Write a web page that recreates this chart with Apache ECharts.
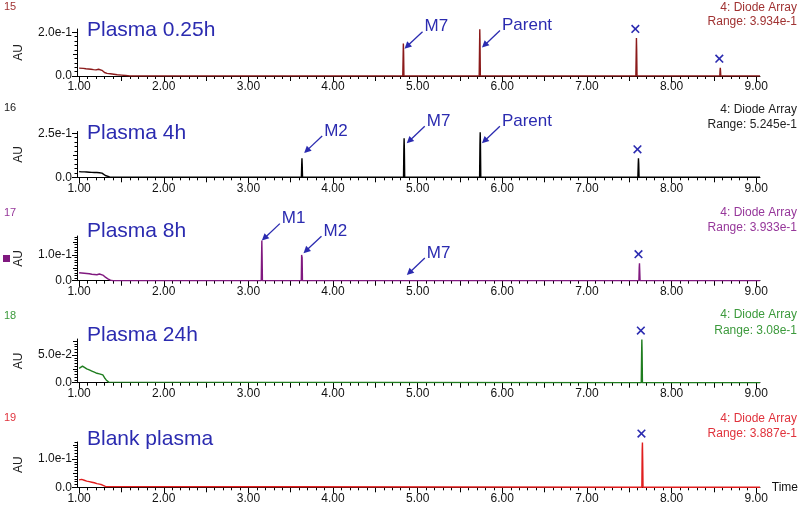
<!DOCTYPE html>
<html><head><meta charset="utf-8">
<script src="https://cdn.jsdelivr.net/npm/echarts@6/dist/echarts.min.js"></script>
<style>html,body{margin:0;padding:0;background:#fff}#c{width:800px;height:510px}</style>
</head><body><div id="c"></div>
<script>
// ---------------- DATA ----------------
const timeTicks = [1, 2, 3, 4, 5, 6, 7, 8, 9];
const traceIds = ['15', '16', '17', '18', '19'];
const sampleNames = ['Plasma 0.25h', 'Plasma 4h', 'Plasma 8h', 'Plasma 24h', 'Blank plasma'];
const detectorText = '4: Diode Array';
const rangeTexts = ['Range: 3.934e-1', 'Range: 5.245e-1', 'Range: 3.933e-1', 'Range: 3.08e-1', 'Range: 3.887e-1'];
const yMax = [0.215, 0.26, 0.174, 0.079, 0.16];
const yLabelTicks = [[0, 0.2], [0, 0.25], [0, 0.1], [0, 0.05], [0, 0.1]];

const trace15 = [[1.00,0.036],[1.02,0.035],[1.05,0.035],[1.08,0.033],[1.11,0.032],[1.14,0.031],[1.17,0.029],[1.20,0.028],[1.23,0.031],[1.25,0.038],[1.27,0.026],[1.30,0.016],[1.33,0.012],[1.37,0.010],[1.41,0.008],[1.45,0.006],[1.50,0.004],[1.55,0.002],[1.60,0.000],
 [4.824,0.000],[4.828,0.080],[4.831,0.149],[4.834,0.110],[4.838,0.000],
 [5.727,0.000],[5.731,0.120],[5.734,0.214],[5.737,0.150],[5.741,0.000],
 [7.578,0.000],[7.582,0.100],[7.585,0.174],[7.588,0.120],[7.592,0.000],
 [8.570,0.000],[8.573,0.025],[8.576,0.038],[8.579,0.020],[8.582,0.000],
 [9.045,0.000]];
const trace16 = [[1.00,0.032],[1.03,0.031],[1.06,0.031],[1.09,0.030],[1.12,0.029],[1.15,0.028],[1.18,0.027],[1.21,0.027],[1.24,0.026],[1.27,0.024],[1.29,0.014],[1.31,0.010],[1.33,0.006],[1.36,0.002],[1.40,0.000],
 [3.626,0.000],[3.630,0.070],[3.633,0.108],[3.636,0.070],[3.640,0.000],
 [4.833,0.000],[4.837,0.160],[4.840,0.222],[4.843,0.160],[4.847,0.000],
 [5.732,0.000],[5.736,0.180],[5.739,0.256],[5.742,0.190],[5.746,0.000],
 [7.602,0.000],[7.606,0.070],[7.609,0.108],[7.612,0.080],[7.616,0.000],
 [9.045,0.000]];
const trace17 = [[1.00,0.031],[1.03,0.030],[1.06,0.029],[1.09,0.028],[1.12,0.027],[1.15,0.025],[1.18,0.024],[1.21,0.023],[1.24,0.026],[1.26,0.030],[1.28,0.022],[1.31,0.014],[1.34,0.007],[1.37,0.002],[1.40,0.000],
 [3.152,0.000],[3.156,0.100],[3.159,0.156],[3.162,0.100],[3.166,0.000],
 [3.625,0.000],[3.629,0.100],[3.632,0.107],[3.635,0.090],[3.639,0.000],
 [4.844,0.000],[4.848,0.003],[4.852,0.000],
 [7.614,0.000],[7.618,0.050],[7.621,0.068],[7.624,0.040],[7.628,0.000],
 [9.045,0.000]];
const trace18 = [[1.00,0.026],[1.02,0.028],[1.04,0.030],[1.06,0.027],[1.09,0.025],[1.12,0.023],[1.15,0.021],[1.18,0.019],[1.21,0.017],[1.24,0.016],[1.26,0.018],[1.28,0.014],[1.30,0.009],[1.32,0.005],[1.35,0.001],[1.37,0.000],
 [7.642,0.000],[7.646,0.050],[7.649,0.078],[7.652,0.055],[7.656,0.000],
 [9.045,0.000]];
const trace19 = [[1.00,0.026],[1.03,0.028],[1.06,0.025],[1.09,0.022],[1.12,0.020],[1.15,0.018],[1.18,0.016],[1.21,0.013],[1.24,0.011],[1.27,0.009],[1.29,0.007],[1.31,0.003],[1.33,0.000],
 [7.649,0.000],[7.653,0.130],[7.656,0.158],[7.659,0.100],[7.663,0.000],
 [9.045,0.000]];

const labelPanel = [0, 0, 1, 1, 1, 2, 2, 2];
const labelText = ['M7', 'Parent', 'M2', 'M7', 'Parent', 'M1', 'M2', 'M7'];
const labelTime = [4.845, 5.760, 3.659, 4.871, 5.759, 3.159, 3.651, 4.872];
const labelAU = [0.125, 0.130, 0.138, 0.193, 0.193, 0.156, 0.107, 0.022];

const crossPanel = [0, 0, 1, 2, 3, 4];
const crossTime = [7.584, 8.576, 7.609, 7.621, 7.649, 7.656];
const crossAU = [0.174, 0.038, 0.108, 0.068, 0.078, 0.158];

// ---------------- STYLE / LAYOUT ----------------
const traces = [trace15, trace16, trace17, trace18, trace19];
const lineColors = ['#8b1a1a', '#000000', '#80197f', '#1f7d1f', '#e01e1e'];
const textColors = ['#a03232', '#222222', '#96379a', '#3c9a3c', '#e0323c'];
const blue = '#2b2bb0';
const FONT = '"Liberation Sans", Arial, sans-serif';
const gridTop = [29, 131.5, 236, 339, 442];
const gridH = [47, 45.8, 44.7, 43.7, 45.3];
const yMinorStep = [0.02, 0.025, 0.01, 0.005, 0.01];
const yMidStep = [0.1, 0.125, 0.05, 0.025, 0.05];
const X_MIN = 0.975, X_MAX = 9.045;

function stepValues(step, maxV, skipSteps) {
  const out = [];
  for (let k = 0; k * step <= maxV + 1e-9; k++) {
    const v = Math.round(k * step * 10000) / 10000;
    if (skipSteps.some(s => Math.abs(v / s - Math.round(v / s)) < 1e-6)) continue;
    out.push(v);
  }
  return out;
}
const xHalf = [], xMinor = [];
for (let k = 10; k <= 90; k++) {
  if (k % 10 === 0) continue;
  if (k % 5 === 0) xHalf.push(k / 10); else xMinor.push(k / 10);
}

const grids = [], xAxes = [], yAxes = [], series = [];
for (let i = 0; i < 5; i++) {
  grids.push({ left: 77, width: 683, top: gridTop[i], height: gridH[i], containLabel: false, outerBoundsMode: 'none' });
  const xBase = { type: 'value', gridIndex: i, min: X_MIN, max: X_MAX, position: 'bottom', splitLine: { show: false } };
  xAxes.push(Object.assign({}, xBase, {
    axisLine: { show: true, onZero: false, lineStyle: { color: '#000', width: 1 } },
    axisTick: { show: true, customValues: timeTicks, length: 6, lineStyle: { color: '#000' } },
    axisLabel: { show: true, customValues: timeTicks, formatter: v => v.toFixed(2), margin: 5, color: '#111', fontSize: 12, fontFamily: FONT },
    name: i === 4 ? 'Time' : '', nameLocation: 'end', nameGap: 6,
    nameTextStyle: { color: '#111', fontSize: 12, fontFamily: FONT, verticalAlign: 'middle' }
  }));
  xAxes.push(Object.assign({}, xBase, {
    axisLine: { show: false, onZero: false }, axisLabel: { show: false },
    axisTick: { show: true, customValues: xHalf, length: 5, lineStyle: { color: '#000' } }
  }));
  xAxes.push(Object.assign({}, xBase, {
    axisLine: { show: false, onZero: false }, axisLabel: { show: false },
    axisTick: { show: true, customValues: xMinor, length: 3, lineStyle: { color: '#000' } }
  }));
  const yBase = { type: 'value', gridIndex: i, min: 0, max: yMax[i], position: 'left', splitLine: { show: false } };
  yAxes.push(Object.assign({}, yBase, {
    axisLine: { show: true, onZero: false, lineStyle: { color: '#000', width: 1 } },
    axisTick: { show: true, customValues: yLabelTicks[i], length: 5, lineStyle: { color: '#000' } },
    axisLabel: { show: true, customValues: yLabelTicks[i], formatter: v => v === 0 ? '0.0' : v.toExponential(1), margin: 5, color: '#111', fontSize: 12, fontFamily: FONT }
  }));
  yAxes.push(Object.assign({}, yBase, {
    axisLine: { show: false, onZero: false }, axisLabel: { show: false },
    axisTick: { show: true, customValues: stepValues(yMidStep[i], yMax[i], [yLabelTicks[i][1]]), length: 4, lineStyle: { color: '#000' } }
  }));
  yAxes.push(Object.assign({}, yBase, {
    axisLine: { show: false, onZero: false }, axisLabel: { show: false },
    axisTick: { show: true, customValues: stepValues(yMinorStep[i], yMax[i], [yMidStep[i], yLabelTicks[i][1]]), length: 2.5, lineStyle: { color: '#000' } }
  }));
  series.push({
    type: 'line', xAxisIndex: i * 3, yAxisIndex: i * 3, data: traces[i], showSymbol: false, symbol: 'none',
    lineStyle: { color: lineColors[i], width: 1.4 }, z: 5, animation: false
  });
}

const chart = echarts.init(document.getElementById('c'), null, { renderer: 'canvas' });
chart.setOption({
  animation: false, backgroundColor: '#fff',
  grid: grids, xAxis: xAxes, yAxis: yAxes, series: series
});

// ---------------- TEXT & ANNOTATIONS ----------------
const graphics = [];
const idY = [7, 108, 213, 316, 418];
const titleY = [30, 133, 231, 335, 439];
const diodeY = [8, 110, 213, 315, 419];
const rangeY = [22, 125, 228, 331, 434];
for (let i = 0; i < 5; i++) {
  graphics.push({ type: 'text', x: 4, y: idY[i], style: { text: traceIds[i], fill: textColors[i], fontSize: 11, fontFamily: FONT, verticalAlign: 'middle' } });
  graphics.push({ type: 'text', x: 87, y: titleY[i], style: { text: sampleNames[i], fill: blue, fontSize: 21, fontFamily: FONT, verticalAlign: 'middle' } });
  graphics.push({ type: 'text', x: 797, y: diodeY[i], style: { text: detectorText, fill: textColors[i], fontSize: 12, fontFamily: FONT, align: 'right', verticalAlign: 'middle' } });
  graphics.push({ type: 'text', x: 797, y: rangeY[i], style: { text: rangeTexts[i], fill: textColors[i], fontSize: 12, fontFamily: FONT, align: 'right', verticalAlign: 'middle' } });
  graphics.push({ type: 'text', x: 19, y: gridTop[i] + gridH[i] / 2, rotation: Math.PI / 2, style: { text: 'AU', fill: '#222', fontSize: 12, fontFamily: FONT, align: 'center', verticalAlign: 'middle' } });
}
graphics.push({ type: 'rect', shape: { x: 3, y: 255, width: 7, height: 7 }, style: { fill: '#80197f' } });

function px(panel, t, v) {
  return chart.convertToPixel({ xAxisIndex: panel * 3, yAxisIndex: panel * 3 }, [t, v]);
}
for (let k = 0; k < labelText.length; k++) {
  const tip = px(labelPanel[k], labelTime[k], labelAU[k]);
  const tail = [tip[0] + 18, tip[1] - 17];
  const dx = tip[0] - tail[0], dy = tip[1] - tail[1];
  const L = Math.hypot(dx, dy), ux = dx / L, uy = dy / L, nx = -uy, ny = ux;
  const hl = 7, hw = 3.5;
  const bx = tip[0] - ux * hl, by = tip[1] - uy * hl;
  graphics.push({ type: 'line', shape: { x1: tail[0], y1: tail[1], x2: bx + ux, y2: by + uy }, style: { stroke: blue, lineWidth: 1.3 } });
  graphics.push({ type: 'polygon', shape: { points: [[tip[0], tip[1]], [bx + nx * hw, by + ny * hw], [bx - nx * hw, by - ny * hw]] }, style: { fill: blue } });
  graphics.push({ type: 'text', x: tail[0] + 2, y: tail[1] - 5, style: { text: labelText[k], fill: blue, fontSize: 17, fontFamily: FONT, verticalAlign: 'middle' } });
}
for (let k = 0; k < crossTime.length; k++) {
  const p = px(crossPanel[k], crossTime[k], crossAU[k]);
  const cx = p[0] - 1, cy = p[1] - 9, r = 3.8;
  graphics.push({ type: 'line', shape: { x1: cx - r, y1: cy - r, x2: cx + r, y2: cy + r }, style: { stroke: blue, lineWidth: 1.6 } });
  graphics.push({ type: 'line', shape: { x1: cx - r, y1: cy + r, x2: cx + r, y2: cy - r }, style: { stroke: blue, lineWidth: 1.6 } });
}
chart.setOption({ graphic: { elements: graphics } });
</script>
</body></html>
